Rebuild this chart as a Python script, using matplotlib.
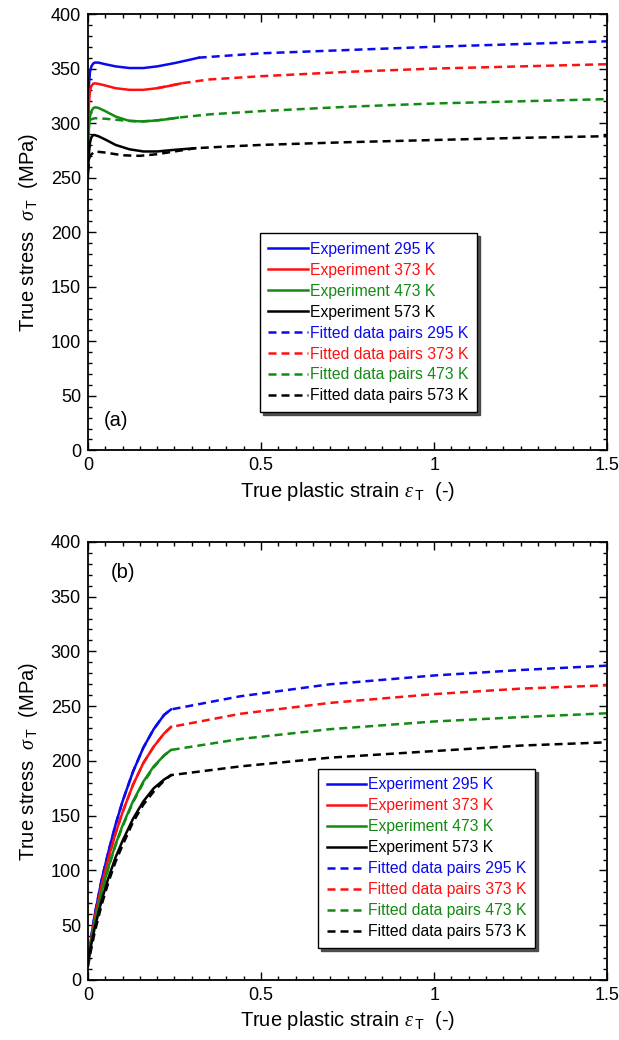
import matplotlib
matplotlib.use("Agg")
import matplotlib.pyplot as plt
from matplotlib.lines import Line2D
from matplotlib.ticker import MultipleLocator, FixedLocator, FixedFormatter

plt.rcParams['font.family'] = ['Liberation Sans', 'DejaVu Sans']
plt.rcParams['mathtext.fontset'] = 'custom'
plt.rcParams['mathtext.it'] = 'Liberation Serif:italic'
plt.rcParams['mathtext.rm'] = 'Liberation Sans'

temps = ["295 K", "373 K", "473 K", "573 K"]
colors = ["#0a0aee", "#ff1010", "#138a13", "#000000"]

# ---- Panel (a): experiment vs fitted data pairs ----
a_exp_strain = [
    [0, 0.003, 0.006, 0.01, 0.015, 0.02, 0.03, 0.05, 0.08, 0.12, 0.16, 0.2, 0.25, 0.3, 0.32],
    [0, 0.003, 0.006, 0.01, 0.015, 0.02, 0.03, 0.05, 0.08, 0.12, 0.16, 0.2, 0.25, 0.27],
    [0, 0.003, 0.006, 0.01, 0.015, 0.02, 0.03, 0.05, 0.08, 0.12, 0.16, 0.2, 0.24, 0.26],
    [0, 0.003, 0.006, 0.01, 0.015, 0.02, 0.03, 0.05, 0.08, 0.12, 0.16, 0.2, 0.25, 0.31],
]
a_exp_stress = [
    [300, 335, 347, 352, 354.5, 355.5, 355.5, 354, 352, 350.5, 350.5, 352, 355, 358.5, 360],
    [285, 318, 330, 334, 336, 336.5, 336, 334.5, 332, 330.5, 330.5, 332, 335, 336.5],
    [270, 295, 306, 311, 313.5, 314.5, 314, 311, 306, 302, 301.5, 302.5, 304, 305],
    [250, 272, 282, 287, 289, 289, 288, 285, 280, 276, 274, 274, 275.5, 277],
]
a_fit_strain = [
    [0.32, 0.5, 0.75, 1.0, 1.25, 1.5],
    [0.2, 0.27, 0.35, 0.5, 0.75, 1.0, 1.25, 1.5],
    [0.005, 0.02, 0.05, 0.1, 0.15, 0.2, 0.26, 0.35, 0.5, 0.75, 1.0, 1.25, 1.5],
    [0.0, 0.005, 0.02, 0.05, 0.1, 0.15, 0.2, 0.25, 0.31, 0.4, 0.5, 0.75, 1.0, 1.25, 1.5],
]
a_fit_stress = [
    [360, 364, 367, 370, 372.5, 375],
    [332, 336.5, 340, 343, 347, 350, 352, 354],
    [303, 304.5, 304, 302.5, 301.5, 302.5, 305, 308, 311, 315, 318, 320, 322],
    [255, 270, 274, 273, 270.5, 270, 271.5, 274, 277, 278.5, 280, 282.5, 284.5, 286.5, 288],
]

# ---- Panel (b) ----
b_exp_strain = [0, 0.01, 0.02, 0.04, 0.06, 0.08, 0.10, 0.13, 0.16, 0.19, 0.22, 0.24]
b_exp_stress = [
    [15, 40, 60, 92, 118, 142, 163, 190, 212, 229, 242, 247],
    [15, 38, 57, 87, 112, 134, 153, 178, 198, 213, 225, 231],
    [15, 36, 53, 81, 104, 124, 141, 163, 181, 195, 205, 210],
    [15, 33, 48, 73, 94, 112, 127, 147, 163, 175, 183, 187],
]
b_fit_strain = [0, 0.01, 0.02, 0.04, 0.06, 0.08, 0.10, 0.13, 0.16, 0.19, 0.22, 0.24,
                0.44, 0.7, 1.0, 1.25, 1.5]
b_fit_stress = [
    [15, 40, 60, 92, 118, 142, 163, 190, 212, 229, 242, 247, 259, 270, 278, 283, 287],
    [15, 38, 57, 87, 112, 134, 153, 178, 198, 213, 225, 231, 243, 253, 261, 266, 269],
    [15, 35, 52, 80, 103, 123, 140, 162, 180, 194, 205, 210, 220, 229, 236, 240, 243.5],
    [12, 29, 44, 69, 90, 108, 123, 144, 160, 172, 182, 187, 195, 203, 209, 214, 217],
]

xticks = [0, 0.5, 1, 1.5]
xticklabels = ["0", "0.5", "1", "1.5"]

fig = plt.figure(figsize=(6.19, 10.4), dpi=100)
ax_a = fig.add_axes([0.142, 0.567, 0.839, 0.4195])
ax_b = fig.add_axes([0.142, 0.0577, 0.839, 0.4213])

LW = 1.8
DASH = (3.2, 2.0)

XLABEL = r'True plastic strain $\varepsilon_{\,\mathrm{T}}$  (-)'
YLABEL = r'True stress  $\sigma_{\,\mathrm{T}}$  (MPa)'


def style_axes(ax, tag, tag_xy):
    ax.set_xlim(0, 1.5)
    ax.set_ylim(0, 400)
    ax.xaxis.set_major_locator(FixedLocator(xticks))
    ax.xaxis.set_major_formatter(FixedFormatter(xticklabels))
    ax.xaxis.set_minor_locator(MultipleLocator(0.05))
    ax.yaxis.set_major_locator(MultipleLocator(50))
    ax.yaxis.set_minor_locator(MultipleLocator(10))
    ax.tick_params(which='both', direction='in', top=True, right=True,
                   labelsize=13, width=1.0)
    ax.tick_params(which='major', length=6, pad=5)
    ax.tick_params(which='minor', length=3)
    for s in ax.spines.values():
        s.set_linewidth(1.3)
    ax.set_xlabel(XLABEL, fontsize=14.5, labelpad=4)
    ax.set_ylabel(YLABEL, fontsize=14.5, labelpad=8)
    ax.text(tag_xy[0], tag_xy[1], tag, fontsize=14.5, transform=ax.transData)


def add_legend(ax, anchor):
    handles = []
    labels = []
    for c, t in zip(colors, temps):
        handles.append(Line2D([], [], color=c, lw=LW))
        labels.append("Experiment " + t)
    for c, t in zip(colors, temps):
        handles.append(Line2D([], [], color=c, lw=LW, ls=(0, DASH)))
        labels.append("Fitted data pairs " + t)
    leg = ax.legend(handles, labels, loc='upper left', bbox_to_anchor=anchor,
                    fontsize=11.3, frameon=True, fancybox=False,
                    shadow={'color': '0.25', 'alpha': 0.9},
                    edgecolor='black', handlelength=2.5, handletextpad=0.15,
                    labelspacing=0.38, borderpad=0.55, borderaxespad=0)
    leg.get_frame().set_linewidth(1.0)
    for txt, c in zip(leg.get_texts(), colors + colors):
        txt.set_color(c)


# panel (a)
for i in range(4):
    ax_a.plot(a_fit_strain[i], a_fit_stress[i], color=colors[i], lw=LW, ls=(0, DASH))
for i in range(4):
    ax_a.plot(a_exp_strain[i], a_exp_stress[i], color=colors[i], lw=LW)
style_axes(ax_a, "(a)", (0.045, 22))
add_legend(ax_a, (0.331, 0.498))

# panel (b)
for i in range(4):
    ax_b.plot(b_fit_strain, b_fit_stress[i], color=colors[i], lw=LW, ls=(0, DASH))
for i in range(4):
    ax_b.plot(b_exp_strain, b_exp_stress[i], color=colors[i], lw=LW)
style_axes(ax_b, "(b)", (0.065, 367))
add_legend(ax_b, (0.443, 0.482))

fig.savefig("out.png", dpi=100)
